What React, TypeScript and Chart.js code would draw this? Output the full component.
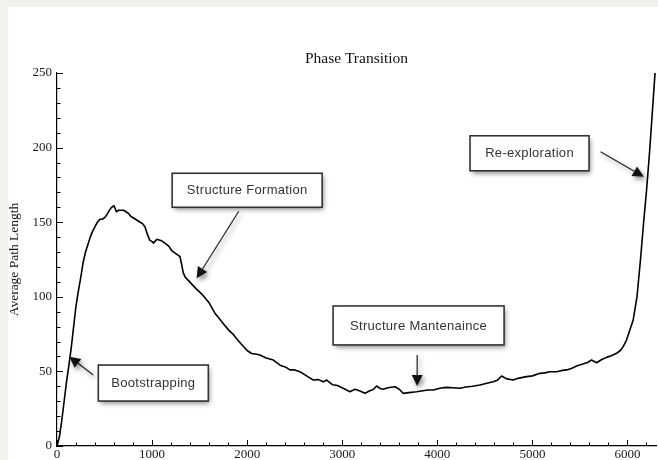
import { useEffect, useRef } from 'react';
import { Chart, registerables } from 'chart.js';

Chart.register(...registerables);

// Iteration (x) and average path length (y)
const PATH_X = [
  0, 25, 50, 75, 100, 125, 150, 175, 200, 225,
  250, 275, 300, 325, 350, 375, 400, 425, 450, 475,
  500, 525, 550, 575, 600, 625, 650, 675, 700, 725,
  750, 775, 800, 825, 850, 875, 900, 925, 950, 975,
  1000, 1013, 1050, 1075, 1100, 1136, 1175, 1206, 1250, 1293,
  1310, 1328, 1350, 1381, 1425, 1470, 1521, 1560, 1600, 1661,
  1700, 1750, 1801, 1850, 1900, 1942, 2000, 2047, 2100, 2135,
  2200, 2275, 2350, 2400, 2450, 2500, 2555, 2600, 2650, 2696,
  2750, 2800, 2836, 2900, 2950, 2976, 3030, 3081, 3134, 3180,
  3239, 3290, 3330, 3361, 3400, 3431, 3480, 3554, 3600, 3642,
  3700, 3782, 3850, 3900, 3957, 4027, 4098, 4160, 4238, 4300,
  4370, 4448, 4520, 4588, 4630, 4676, 4730, 4798, 4860, 4939,
  5000, 5079, 5130, 5184, 5254, 5300, 5360, 5410, 5465, 5530,
  5580, 5622, 5675, 5730, 5780, 5830, 5885, 5925, 5955, 5990,
  6025, 6060, 6100, 6137, 6170, 6200, 6230, 6253, 6290,
];
const PATH_Y = [
  0, 6, 17, 30, 43, 54, 66, 80, 94, 104,
  113, 123, 130, 135, 140, 144, 147, 150, 152, 152,
  153, 155, 158, 160, 161, 157, 158, 158, 158, 157,
  156, 154, 153, 152, 151, 150, 149, 147, 142, 138,
  137, 136, 138.5, 138, 137.5, 136, 134, 131, 129, 127,
  122, 116, 113, 111, 108, 105, 102, 99, 96, 89,
  86, 82, 78, 75, 71, 68, 64, 62, 61.5, 61,
  59, 57.6, 54, 53, 51, 51, 49.8, 48, 46, 44.2,
  44.5, 43, 44.2, 41, 40.5, 39.7, 38, 36.4, 38, 37,
  35.3, 37, 38, 40.2, 38.5, 38, 39, 39.7, 38, 35.3,
  35.8, 36.4, 37, 37.5, 37.5, 38.7, 39.3, 39, 38.7, 39.5,
  40, 40.9, 42, 43.1, 44, 46.9, 45, 44.2, 45.5, 46.5,
  47, 48.7, 49, 49.8, 49.8, 50.5, 51, 52, 53.6, 55,
  56, 57.6, 55.8, 58, 59.4, 60.5, 62.1, 64, 66.6, 71,
  77.7, 84.5, 100, 125, 150, 171, 195, 216, 250,
];

const X_MAX = 6300;
const Y_MAX = 250;
const X_TICKS = [0, 1000, 2000, 3000, 4000, 5000, 6000];
const X_MAJOR = 1000;
const X_MINOR = 200;
const Y_MAJOR = 50;
const Y_MINOR = 10;

const TITLE = 'Phase Transition';
const Y_TITLE = 'Average Path Length';

// Callouts: box centre and arrow tip in data units
const CALLOUT_LABELS = ['Bootstrapping', 'Structure Formation', 'Structure Mantenaince', 'Re-exploration'];
const CALLOUT_BOX_X = [1013, 2000, 3803, 4970];
const CALLOUT_BOX_Y = [42.2, 171.4, 80.8, 196.2];
const CALLOUT_TIP_X = [129, 1469, 3788, 6172];
const CALLOUT_TIP_Y = [59.9, 112.4, 40.2, 180.5];
// layout (pixels)
const CALLOUT_W = [110, 150, 171, 119];
const CALLOUT_H = [36, 34, 39, 35];
const CALLOUT_SX = [-60, -8.4, -1.4, 71];
const CALLOUT_SY = [-8, 21, 29.5, -1.6];

const serif = "'Liberation Serif', 'Times New Roman', serif";
const sans = "'Liberation Sans', Arial, sans-serif";

const inwardTicks = {
  id: 'inwardTicks',
  afterDraw(chart: any) {
    const { ctx, chartArea } = chart;
    const xs = chart.scales.x;
    const ys = chart.scales.y;
    ctx.save();
    ctx.strokeStyle = '#000';
    ctx.lineWidth = 1;
    for (let v = 0; v <= X_MAX; v += X_MINOR) {
      const px = Math.round(xs.getPixelForValue(v)) + 0.5;
      const len = v % X_MAJOR === 0 ? 6 : 3.5;
      ctx.beginPath();
      ctx.moveTo(px, chartArea.bottom);
      ctx.lineTo(px, chartArea.bottom - len);
      ctx.stroke();
    }
    for (let v = 0; v <= Y_MAX; v += Y_MINOR) {
      const py = Math.round(ys.getPixelForValue(v)) + 0.5;
      const len = v % Y_MAJOR === 0 ? 6 : 3.5;
      ctx.beginPath();
      ctx.moveTo(chartArea.left, py);
      ctx.lineTo(chartArea.left + len, py);
      ctx.stroke();
    }
    ctx.restore();
  },
};

const callouts = {
  id: 'callouts',
  afterDraw(chart: any) {
    const { ctx } = chart;
    const xs = chart.scales.x;
    const ys = chart.scales.y;
    CALLOUT_LABELS.forEach((label, i) => {
      const cx = xs.getPixelForValue(CALLOUT_BOX_X[i]);
      const cy = ys.getPixelForValue(CALLOUT_BOX_Y[i]);
      const w = CALLOUT_W[i];
      const h = CALLOUT_H[i];
      const tx = xs.getPixelForValue(CALLOUT_TIP_X[i]);
      const ty = ys.getPixelForValue(CALLOUT_TIP_Y[i]);
      const sx = cx + CALLOUT_SX[i];
      const sy = cy + CALLOUT_SY[i];

      ctx.save();
      ctx.shadowColor = 'rgba(0,0,0,0.45)';
      ctx.shadowBlur = 5;
      ctx.shadowOffsetX = 2;
      ctx.shadowOffsetY = 3;
      // arrow
      const ang = Math.atan2(ty - sy, tx - sx);
      const hl = 11;
      const hw = 5.5;
      const bx = tx - hl * Math.cos(ang);
      const by = ty - hl * Math.sin(ang);
      ctx.strokeStyle = '#222';
      ctx.fillStyle = '#111';
      ctx.lineWidth = 1.2;
      ctx.beginPath();
      ctx.moveTo(sx, sy);
      ctx.lineTo(bx, by);
      ctx.stroke();
      ctx.beginPath();
      ctx.moveTo(tx, ty);
      ctx.lineTo(bx + hw * Math.sin(ang), by - hw * Math.cos(ang));
      ctx.lineTo(bx - hw * Math.sin(ang), by + hw * Math.cos(ang));
      ctx.closePath();
      ctx.fill();
      // box
      ctx.fillStyle = '#fff';
      ctx.fillRect(cx - w / 2, cy - h / 2, w, h);
      ctx.shadowColor = 'transparent';
      ctx.strokeStyle = '#333';
      ctx.lineWidth = 1.6;
      ctx.strokeRect(cx - w / 2, cy - h / 2, w, h);
      // text
      ctx.fillStyle = '#333';
      ctx.font = `13px ${sans}`;
      try { (ctx as any).letterSpacing = '0.3px'; } catch (e) {}
      ctx.textAlign = 'center';
      ctx.textBaseline = 'middle';
      ctx.fillText(label, cx, cy + 0.5);
      ctx.restore();
    });
  },
};

export default function App() {
  const canvasRef = useRef<HTMLCanvasElement | null>(null);

  useEffect(() => {
    if (!canvasRef.current) return;
    const chart = new Chart(canvasRef.current, {
      type: 'line',
      data: {
        datasets: [
          {
            label: Y_TITLE,
            data: PATH_X.map((x, i) => ({ x, y: PATH_Y[i] })),
            borderColor: '#000',
            borderWidth: 1.6,
            borderJoinStyle: 'round',
            pointRadius: 0,
            tension: 0,
            fill: false,
          },
        ],
      },
      options: {
        animation: false,
        responsive: false,
        maintainAspectRatio: false,
        events: [],
        layout: { padding: { left: 0, right: 2, top: 0, bottom: 0 } },
        plugins: {
          legend: { display: false },
          tooltip: { enabled: false },
          title: {
            display: true,
            fullSize: false,
            text: TITLE,
            color: '#111',
            font: { family: serif, size: 15.5, weight: 'normal' },
            padding: { top: 50, bottom: 4.4 },
          },
        },
        scales: {
          x: {
            type: 'linear',
            min: 0,
            max: X_MAX,
            grid: { display: false, drawTicks: false },
            border: { display: true, color: '#000', width: 1.2 },
            afterFit: (s: any) => { s.height = 14; },
            afterBuildTicks: (s: any) => {
              s.ticks = X_TICKS.map((v) => ({ value: v }));
            },
            ticks: {
              color: '#1a1a1a',
              font: { family: serif, size: 13 },
              padding: 1,
              maxRotation: 0,
              autoSkip: false,
              callback: (v: any) => String(v),
            },
          },
          y: {
            type: 'linear',
            min: 0,
            max: Y_MAX,
            grid: { display: false, drawTicks: false },
            border: { display: true, color: '#000', width: 1.2 },
            afterFit: (s: any) => { s.width = 57; },
            ticks: {
              stepSize: Y_MAJOR,
              color: '#1a1a1a',
              font: { family: serif, size: 13 },
              padding: 5,
            },
            title: {
              display: true,
              text: Y_TITLE,
              color: '#111',
              font: { family: serif, size: 13.5 },
              padding: { top: 6, bottom: 0 },
            },
          },
        },
      },
      plugins: [inwardTicks, callouts],
    } as any);
    return () => chart.destroy();
  }, []);

  return (
    <div style={{ position: 'fixed', left: 0, top: 0, width: 658, height: 460, background: '#f2f1ed', overflow: 'hidden' }}>
      <div style={{ position: 'absolute', left: 8, top: 7, right: 0, bottom: 0, background: '#ffffff' }} />
      <canvas ref={canvasRef} width={658} height={460} style={{ position: 'absolute', left: 0, top: 0, width: 658, height: 460 }} />
    </div>
  );
}
